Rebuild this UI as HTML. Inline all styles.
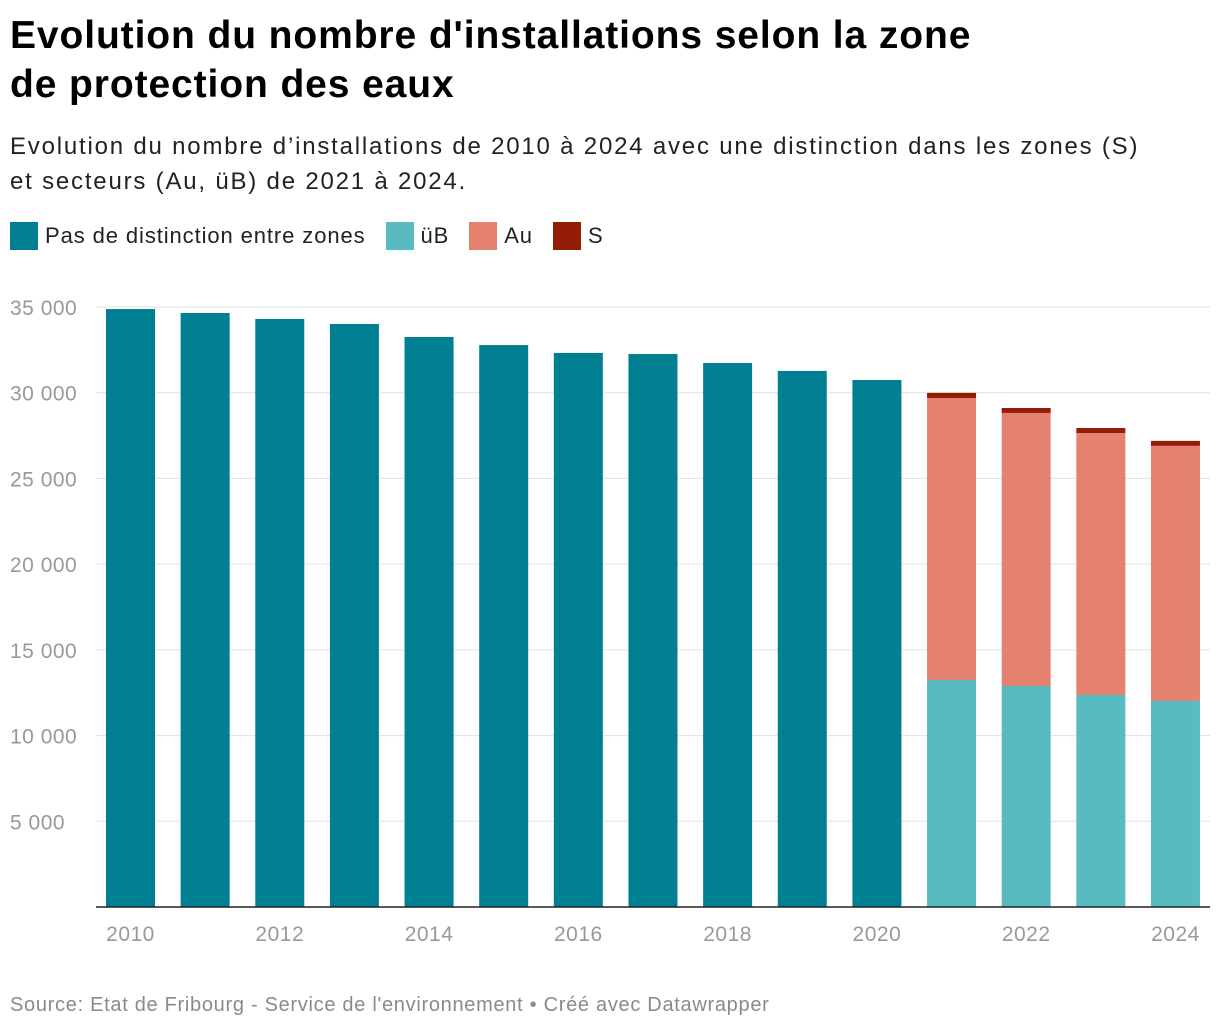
<!DOCTYPE html>
<html><head><meta charset="utf-8"><style>
body{margin:0;background:#fff;font-family:"Liberation Sans",sans-serif;width:1220px;height:1030px;overflow:hidden;position:relative}
h1{position:absolute;left:10px;top:11px;margin:0;font-size:39px;line-height:49px;font-weight:bold;color:#000;letter-spacing:0.9px}
.sub{position:absolute;left:10px;top:129px;font-size:24px;line-height:35px;color:#222;letter-spacing:1.8px}
.legend{position:absolute;left:10px;top:222px;font-size:22px;color:#222;display:flex;align-items:center;letter-spacing:0.9px}
.li{display:flex;align-items:center;margin-right:20px}
.sw{width:28px;height:28px;margin-right:7px}
.src{position:absolute;left:10px;top:994px;font-size:20px;color:#8a8a8a;letter-spacing:0.7px}
</style></head><body>
<h1>Evolution du nombre d'installations selon la zone<br>de protection des eaux</h1>
<div class="sub">Evolution du nombre d’installations de 2010 à 2024 avec une distinction dans les zones (S)<br>et secteurs (Au, üB) de 2021 à 2024.</div>
<div class="legend">
<div class="li"><div class="sw" style="background:#007f93"></div>Pas de distinction entre zones</div>
<div class="li"><div class="sw" style="background:#57bbc1"></div>üB</div>
<div class="li"><div class="sw" style="background:#e5816f"></div>Au</div>
<div class="li"><div class="sw" style="background:#941c07"></div>S</div>
</div>
<svg id="chart" width="1220" height="1030" style="position:absolute;left:0;top:0"></svg>
<div class="src">Source: Etat de Fribourg - Service de l'environnement • Créé avec Datawrapper</div>
<script>
const years=[2010,2011,2012,2013,2014,2015,2016,2017,2018,2019,2020,2021,2022,2023,2024];
const noDist=[34880,34650,34300,34010,33250,32780,32320,32260,31730,31270,30740,0,0,0,0];
const ub=[0,0,0,0,0,0,0,0,0,0,0,13240,12890,12370,12020];
const au=[0,0,0,0,0,0,0,0,0,0,0,16450,15930,15280,14880];
const s=[0,0,0,0,0,0,0,0,0,0,0,300,290,290,290];
const yTicks=[5000,10000,15000,20000,25000,30000,35000];
const yLabels=["5 000","10 000","15 000","20 000","25 000","30 000","35 000"];
const xLabelYears=[2010,2012,2014,2016,2018,2020,2022,2024];
const svg=document.getElementById('chart');
const NS='http://www.w3.org/2000/svg';
const y0=907,pxPer=600/35000;
const Y=v=>y0-v*pxPer;
const bw=49,step=74.64,x0=106;
const X=i=>x0+i*step;
function mk(t,a){const e=document.createElementNS(NS,t);for(const k in a)e.setAttribute(k,a[k]);svg.appendChild(e);return e;}
yTicks.forEach((v,i)=>{
 const g=mk('line',{x1:96,x2:1210,y1:Y(v),y2:Y(v),stroke:'#e0e0e0','stroke-width':1});
 
 
 const t=mk('text',{x:10,y:Y(v)+8,'font-size':21,fill:'#999','font-family':'Liberation Sans, sans-serif','letter-spacing':'0.5'});
 t.textContent=yLabels[i];
 
 
});
years.forEach((yr,i)=>{
 const segs=[[noDist[i],'#007f93'],[ub[i],'#57bbc1'],[au[i],'#e5816f'],[s[i],'#941c07']];
 let base=0;
 segs.forEach(([v,c],k)=>{
  if(v<=0)return;
  const r=mk('rect',{x:X(i),y:Y(base+v),width:bw,height:v*pxPer,fill:c});
  
  
  base+=v;
 });
});
xLabelYears.forEach(yr=>{
 const i=years.indexOf(yr);
 const t=mk('text',{x:X(i)+bw/2,y:941,'font-size':21,fill:'#999','text-anchor':'middle','font-family':'Liberation Sans, sans-serif','letter-spacing':'0.5'});
 t.textContent=yr;
 
 
});
const ax=mk('line',{x1:96,x2:1210,y1:y0,y2:y0,stroke:'#222','stroke-width':1.5});


</script>
</body></html>
